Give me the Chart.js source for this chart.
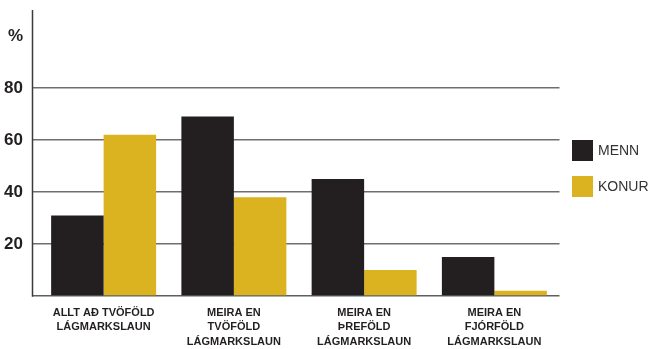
<!DOCTYPE html>
<html>
<head>
<meta charset="utf-8">
<script src="https://cdn.jsdelivr.net/npm/chart.js@4/dist/chart.umd.min.js"></script>
<style>
  html, body { margin: 0; padding: 0; background: #ffffff; }
  #wrap { width: 649px; height: 349px; }
</style>
</head>
<body>
<div id="wrap"><canvas id="c" width="649" height="349"></canvas></div>
<script>
// Income bands relative to the minimum wage, share of men and women (%)
const categories = [
  ["ALLT AÐ TVÖFÖLD", "LÁGMARKSLAUN"],
  ["MEIRA EN", "TVÖFÖLD", "LÁGMARKSLAUN"],
  ["MEIRA EN", "ÞREFÖLD", "LÁGMARKSLAUN"],
  ["MEIRA EN", "FJÓRFÖLD", "LÁGMARKSLAUN"]
];
const seriesNames = ["MENN", "KONUR"];
const menn = [31, 69, 45, 15];
const konur = [62, 38, 10, 2];
const yTicks = [0, 20, 40, 60, 80, 100];
const yTickLabels = ["", "20", "40", "60", "80", "%"];

const DARK = "#231f20";
const GOLD = "#dbb21f";
const GRID = "#6e6e6e";
const FONT = "'Liberation Sans', Arial, sans-serif";

// Vertical axis line, drawn a few pixels left of the plot so the gridlines meet it
const axisLine = {
  id: "axisLine",
  beforeDatasetsDraw(chart) {
    const { ctx, chartArea } = chart;
    const x = chartArea.left - 6;
    ctx.save();
    ctx.strokeStyle = "#3a3a3a";
    ctx.lineWidth = 1.5;
    ctx.beginPath();
    ctx.moveTo(x, chartArea.top);
    ctx.lineTo(x, chartArea.bottom + 0.75);
    ctx.stroke();
    ctx.restore();
  }
};

// Legend at the right: square swatch and series name
const sideLegend = {
  id: "sideLegend",
  afterDraw(chart) {
    const { ctx } = chart;
    ctx.save();
    ctx.font = "14px " + FONT;
    ctx.textBaseline = "middle";
    ctx.textAlign = "left";
    chart.data.datasets.forEach((ds, i) => {
      const y = 140 + i * 36;
      ctx.fillStyle = ds.backgroundColor;
      ctx.fillRect(572, y, 21, 21);
      ctx.fillStyle = "#333333";
      ctx.fillText(ds.label, 598, y + 11);
    });
    ctx.restore();
  }
};

new Chart(document.getElementById("c"), {
  type: "bar",
  data: {
    labels: categories,
    datasets: [
      { label: seriesNames[0], data: menn, backgroundColor: DARK },
      { label: seriesNames[1], data: konur, backgroundColor: GOLD }
    ]
  },
  options: {
    responsive: false,
    animation: false,
    layout: { padding: { top: 10, right: 89.5, left: 0, bottom: 0 } },
    datasets: {
      bar: { categoryPercentage: 0.806, barPercentage: 1.0, borderWidth: 0 }
    },
    plugins: {
      legend: { display: false },
      tooltip: { enabled: false }
    },
    scales: {
      x: {
        afterFit(scale) {
          scale.height = 53;
          scale.paddingLeft = 0;
          scale.paddingRight = 0;
        },
        grid: { display: false },
        border: { display: false },
        ticks: {
          autoSkip: false,
          maxRotation: 0,
          minRotation: 0,
          padding: 2,
          color: DARK,
          font: { family: FONT, size: 11, weight: "bold", lineHeight: 1.3 }
        }
      },
      y: {
        min: 0,
        max: 110,
        afterFit(scale) {
          scale.width = 38.5;
          scale.paddingTop = 0;
          scale.paddingBottom = 0;
        },
        afterBuildTicks(scale) {
          scale.ticks = yTicks.map(v => ({ value: v }));
        },
        border: { display: false },
        grid: {
          drawTicks: true,
          tickLength: 6,
          lineWidth: 1.5,
          color(ctx) {
            const v = ctx.tick ? ctx.tick.value : null;
            if (v === 100) return "rgba(0,0,0,0)";
            if (v === 0) return "#5f5f5f";
            return GRID;
          }
        },
        ticks: {
          padding: 9.5,
          color: DARK,
          font: { family: FONT, size: 17, weight: "bold" },
          callback(value) {
            const i = yTicks.indexOf(value);
            return i >= 0 ? yTickLabels[i] : "";
          }
        }
      }
    }
  },
  plugins: [axisLine, sideLegend]
});
</script>
</body>
</html>
